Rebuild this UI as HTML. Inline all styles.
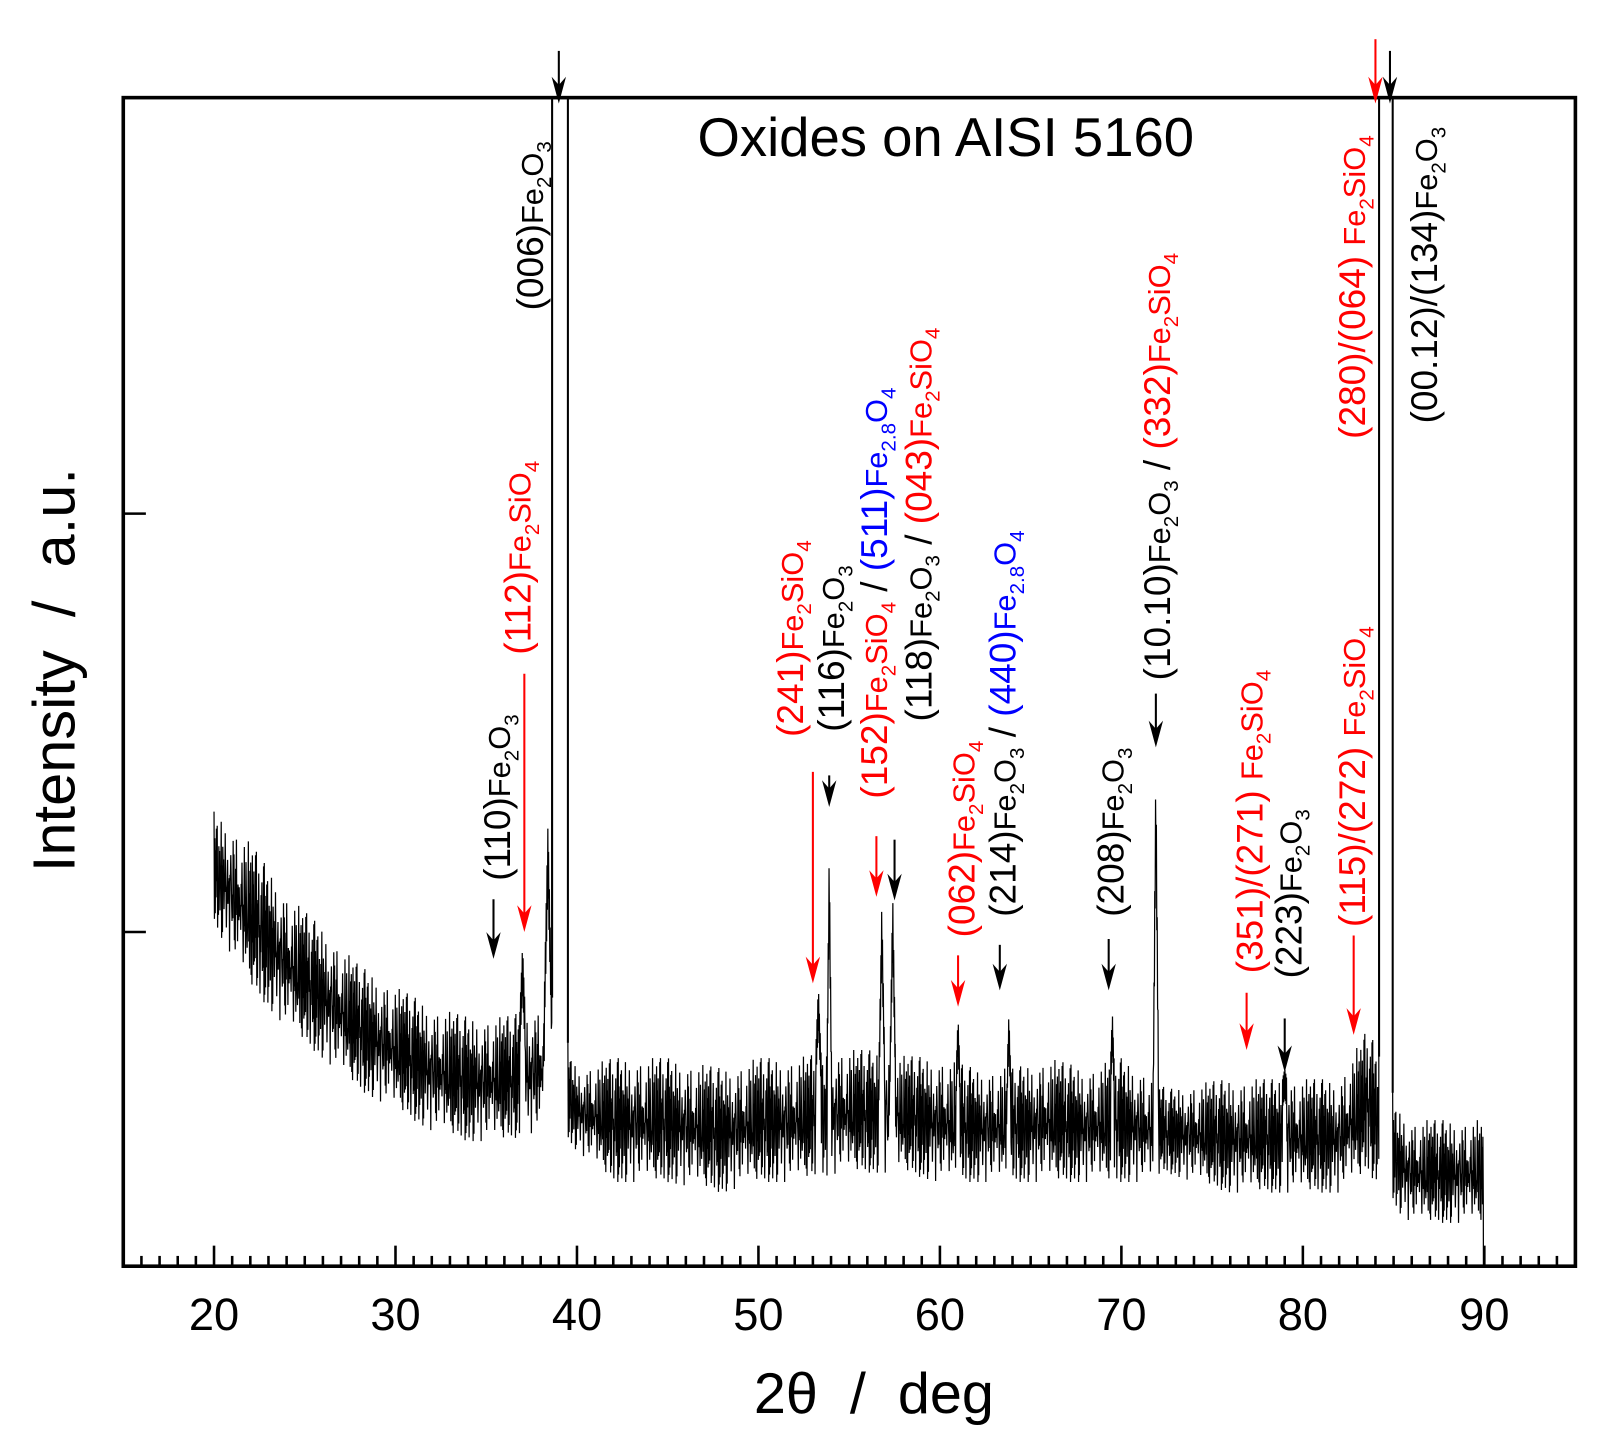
<!DOCTYPE html>
<html><head><meta charset="utf-8"><style>
html,body{margin:0;padding:0;background:#fff;}
svg{display:block;font-family:"Liberation Sans",Arial,sans-serif;}
</style></head><body>
<svg id="chart" width="1611" height="1444" viewBox="0 0 1567 1405" xmlns="http://www.w3.org/2000/svg" style="position:absolute;left:0;top:0">
<g id="plot"></g>
<g id="axes"></g>
<g id="arrows"></g>
</svg>
<script>
// ---- data ----
const bandAngles = [20,22,24,26,28,30,32,34,36,38,38.4,40,42,45,48,50,52,54.5,56,58,60,62,64,66,68,70,71.5,72.5,74,76,78,80,82,83.6,85.3,86,88,89.8];
const bandUpper  = [38.9,36.2,31.8,28.9,25.7,23.9,22.2,21.3,21.3,22.2,24,16.9,17.8,17.8,16.9,17.8,17.8,18.5,18.5,18,17.8,16.9,16.9,17.8,16.9,17.8,16.5,15.1,15.6,16.0,16.0,16.0,16.0,20.4,13.4,12.5,12.5,12.5];
const bandLower  = [29.2,23.9,20.4,17.8,15.1,13.4,11.6,10.7,10.7,11.6,12,9.9,7.2,7.2,6.3,7.2,7.2,8,8,8,7.2,7.2,7.2,7.2,7.2,7.2,7.2,8,7.2,6.3,6.3,6.3,6.3,8,4.6,3.7,3.7,3.7];
const peakAngles = [37.0,38.4,53.3,53.9,56.8,57.4,61.0,63.8,69.5,71.9,79.0];
const peakHeights= [27.4,38.0,23.9,35.8,31.0,31.8,21.3,21.7,21.7,42.8,16.9];
const peakWidths = [0.15,0.2,0.15,0.12,0.15,0.15,0.1,0.1,0.1,0.15,0.12];
const bigPeakLeft  = [38.63,84.2];
const bigPeakRight = [39.5,84.95];
const xTickLabels = [20,30,40,50,60,70,80,90];
const yTickValues = [28.6,64.4];
// arrows: angle, top (intensity), tip (intensity), colour flag
const arrowAngles = [39.0,35.4,37.1,53.0,53.9,56.5,57.5,61.0,63.3,69.3,71.9,76.9,79.0,82.8,84.0,84.8];
const arrowTops   = [104,31.4,50.7,42.3,42.0,36.8,36.5,26.6,27.5,28,49,23.4,21.2,28.3,105,104];
const arrowBottoms= [99.5,26.3,28.6,24.2,39.3,31.6,31.3,22.2,23.6,23.6,44.4,18.5,16.6,19.8,99.5,99.5];
const arrowRed    = [0,0,1,1,0,1,0,1,0,0,0,1,0,1,1,0];

// ---- axes ----
const X0=119.7, X1=1532.6, YB=1232, YT=95;
const xs = v => 208 + (v-20)*(1444-208)/70;
const ys = v => YB - v*11.37;
const NS="http://www.w3.org/2000/svg";
function mk(tag, attrs, parent){const e=document.createElementNS(NS,tag);for(const k in attrs)e.setAttribute(k,attrs[k]);parent.appendChild(e);return e;}
const plot=document.getElementById('plot'), axes=document.getElementById('axes'), arrows=document.getElementById('arrows');

function interp(a, arr){
  for(let i=0;i<bandAngles.length-1;i++){
    if(a>=bandAngles[i]&&a<=bandAngles[i+1]){const t=(a-bandAngles[i])/(bandAngles[i+1]-bandAngles[i]);return arr[i]+t*(arr[i+1]-arr[i]);}
  }
  return arr[arr.length-1];
}
const pattern=[1,0.2,0.8,0.05,0.6,0.35,0.95,0.1,0.5,0.7,0.15,0.9,0.3,0.0,0.65,0.45,0.85,0.25,0.55,0.75,0.4];
function trace(a0,a1,startV,endV){
  let pts=[]; let k=0; const step=0.022;
  if(startV!==undefined) pts.push(xs(a0).toFixed(1)+','+ys(startV).toFixed(1));
  for(let a=a0;a<=a1;a+=step,k++){
    const u=interp(a,bandUpper), l=interp(a,bandLower);
    const p=pattern[(k*7+Math.floor(k/3))%pattern.length];
    let f = (k%2===0)? 0.35+0.65*p : 0.6*p;
    let v = l+(u-l)*f;
    for(let j=0;j<peakAngles.length;j++){
      const d=Math.abs(a-peakAngles[j]);
      if(d<peakWidths[j]){const h=peakHeights[j]-(peakHeights[j]-u)*(d/peakWidths[j]); v=(k%2===0)?Math.max(v,h):Math.max(v,h*0.85);}
    }
    pts.push(xs(a).toFixed(1)+','+ys(v).toFixed(1));
  }
  if(endV!==undefined) pts.push(xs(a1).toFixed(1)+','+ys(endV).toFixed(1));
  const line=mk('polyline',{points:pts.join(' '),fill:'none',stroke:'#000','stroke-width':1.2,'stroke-linejoin':'bevel'},plot);
  
  
}
trace(20,bigPeakLeft[0],undefined,100);
trace(bigPeakRight[0],bigPeakLeft[1],100,100);
trace(bigPeakRight[1],89.95,100,0);
// thicker edges for the saturated peaks
bigPeakLeft.forEach((a,i)=>{
  [a,bigPeakRight[i]].forEach(b=>{
    const e=mk('line',{x1:xs(b),x2:xs(b),y1:ys(100),y2:ys(interp(b,bandUpper)),stroke:'#000','stroke-width':2},plot);
    
    
  });
});

// frame
const frame=mk('rect',{x:X0,y:YT,width:X1-X0,height:YB-YT,fill:'none',stroke:'#000','stroke-width':3.5},axes);


for(let v=16;v<=94;v++){
  const major=(v%10===0);
  const t=mk('line',{x1:xs(v),x2:xs(v),y1:YB,y2:YB-(major?20:10),stroke:'#000','stroke-width':2.5},axes);
  
  
}
xTickLabels.forEach(v=>{
  const t=mk('text',{x:xs(v),y:1294,'text-anchor':'middle','font-size':44},axes);
  t.textContent=v;
  
  
});
yTickValues.forEach(v=>{
  const t=mk('line',{x1:X0,x2:X0+22,y1:ys(v),y2:ys(v),stroke:'#000','stroke-width':2.5},axes);
  
  
});
arrowAngles.forEach((a,i)=>{
  const c=arrowRed[i]?'#f00':'#000';
  const x=xs(a), y1=ys(arrowTops[i]), y2=ys(arrowBottoms[i]);
  const l=mk('line',{x1:x,x2:x,y1:y1,y2:Math.max(y1,y2-10),stroke:c,'stroke-width':2},arrows);
  
  
  const h=mk('path',{d:`M${x-7},${y2-26} L${x},${y2-18} L${x+7},${y2-26} L${x},${y2} Z`,fill:c},arrows);
  
  
});
</script>
<svg style="position:absolute;left:0;top:0" width="1611" height="1444" viewBox="0 0 1567 1405" xmlns="http://www.w3.org/2000/svg" font-family="Liberation Sans, Arial, sans-serif">
<text x="920" y="152" text-anchor="middle" font-size="53">Oxides on AISI 5160</text>
<text x="850" y="1375" text-anchor="middle" font-size="56" xml:space="preserve">2θ  /  deg</text>
<text transform="translate(72,652) rotate(-90)" text-anchor="middle" font-size="58" xml:space="preserve">Intensity  /  a.u.</text>
<g font-size="36">
<text transform="translate(528,302) rotate(-90)">(006)<tspan font-size="30">Fe</tspan><tspan font-size="20" dy="8">2</tspan><tspan font-size="30" dy="-8">O</tspan><tspan font-size="20" dy="8">3</tspan></text>
<text transform="translate(496,857) rotate(-90)">(110)<tspan font-size="30">Fe</tspan><tspan font-size="20" dy="8">2</tspan><tspan font-size="30" dy="-8">O</tspan><tspan font-size="20" dy="8">3</tspan></text>
<text fill="#f00" transform="translate(516,637) rotate(-90)">(112)<tspan font-size="30">Fe</tspan><tspan font-size="20" dy="8">2</tspan><tspan font-size="30" dy="-8">SiO</tspan><tspan font-size="20" dy="8">4</tspan></text>
<text fill="#f00" transform="translate(781,717) rotate(-90)">(241)<tspan font-size="30">Fe</tspan><tspan font-size="20" dy="8">2</tspan><tspan font-size="30" dy="-8">SiO</tspan><tspan font-size="20" dy="8">4</tspan></text>
<text transform="translate(821,712) rotate(-90)">(116)<tspan font-size="30">Fe</tspan><tspan font-size="20" dy="8">2</tspan><tspan font-size="30" dy="-8">O</tspan><tspan font-size="20" dy="8">3</tspan></text>
<text transform="translate(863,777) rotate(-90)"><tspan fill="#f00">(152)</tspan><tspan fill="#f00" font-size="30">Fe</tspan><tspan fill="#f00" font-size="20" dy="8">2</tspan><tspan fill="#f00" font-size="30" dy="-8">SiO</tspan><tspan fill="#f00" font-size="20" dy="8">4</tspan><tspan dy="-8"> / </tspan><tspan fill="#00f">(511)</tspan><tspan fill="#00f" font-size="30">Fe</tspan><tspan fill="#00f" font-size="20" dy="8">2.8</tspan><tspan fill="#00f" font-size="30" dy="-8">O</tspan><tspan fill="#00f" font-size="20" dy="8">4</tspan></text>
<text transform="translate(906,702) rotate(-90)">(118)<tspan font-size="30">Fe</tspan><tspan font-size="20" dy="8">2</tspan><tspan font-size="30" dy="-8">O</tspan><tspan font-size="20" dy="8">3</tspan><tspan dy="-8"> / </tspan><tspan fill="#f00">(043)</tspan><tspan fill="#f00" font-size="30">Fe</tspan><tspan fill="#f00" font-size="20" dy="8">2</tspan><tspan fill="#f00" font-size="30" dy="-8">SiO</tspan><tspan fill="#f00" font-size="20" dy="8">4</tspan></text>
<text fill="#f00" transform="translate(948,912) rotate(-90)">(062)<tspan font-size="30">Fe</tspan><tspan font-size="20" dy="8">2</tspan><tspan font-size="30" dy="-8">SiO</tspan><tspan font-size="20" dy="8">4</tspan></text>
<text transform="translate(988,892) rotate(-90)">(214)<tspan font-size="30">Fe</tspan><tspan font-size="20" dy="8">2</tspan><tspan font-size="30" dy="-8">O</tspan><tspan font-size="20" dy="8">3</tspan><tspan dy="-8"> / </tspan><tspan fill="#00f">(440)</tspan><tspan fill="#00f" font-size="30">Fe</tspan><tspan fill="#00f" font-size="20" dy="8">2.8</tspan><tspan fill="#00f" font-size="30" dy="-8">O</tspan><tspan fill="#00f" font-size="20" dy="8">4</tspan></text>
<text transform="translate(1093,892) rotate(-90)">(208)<tspan font-size="30">Fe</tspan><tspan font-size="20" dy="8">2</tspan><tspan font-size="30" dy="-8">O</tspan><tspan font-size="20" dy="8">3</tspan></text>
<text transform="translate(1138,662) rotate(-90)">(10.10)<tspan font-size="30">Fe</tspan><tspan font-size="20" dy="8">2</tspan><tspan font-size="30" dy="-8">O</tspan><tspan font-size="20" dy="8">3</tspan><tspan dy="-8"> / </tspan><tspan fill="#f00">(332)</tspan><tspan fill="#f00" font-size="30">Fe</tspan><tspan fill="#f00" font-size="20" dy="8">2</tspan><tspan fill="#f00" font-size="30" dy="-8">SiO</tspan><tspan fill="#f00" font-size="20" dy="8">4</tspan></text>
<text fill="#f00" transform="translate(1228,947) rotate(-90)">(351)/(271) <tspan font-size="30">Fe</tspan><tspan font-size="20" dy="8">2</tspan><tspan font-size="30" dy="-8">SiO</tspan><tspan font-size="20" dy="8">4</tspan></text>
<text transform="translate(1266,952) rotate(-90)">(223)<tspan font-size="30">Fe</tspan><tspan font-size="20" dy="8">2</tspan><tspan font-size="30" dy="-8">O</tspan><tspan font-size="20" dy="8">3</tspan></text>
<text fill="#f00" transform="translate(1328,902) rotate(-90)">(115)/(272) <tspan font-size="30">Fe</tspan><tspan font-size="20" dy="8">2</tspan><tspan font-size="30" dy="-8">SiO</tspan><tspan font-size="20" dy="8">4</tspan></text>
<text fill="#f00" transform="translate(1328,427) rotate(-90)">(280)/(064) <tspan font-size="30">Fe</tspan><tspan font-size="20" dy="8">2</tspan><tspan font-size="30" dy="-8">SiO</tspan><tspan font-size="20" dy="8">4</tspan></text>
<text transform="translate(1398,412) rotate(-90)">(00.12)/(134)<tspan font-size="30">Fe</tspan><tspan font-size="20" dy="8">2</tspan><tspan font-size="30" dy="-8">O</tspan><tspan font-size="20" dy="8">3</tspan></text>
</g>
</svg>
</body></html>
